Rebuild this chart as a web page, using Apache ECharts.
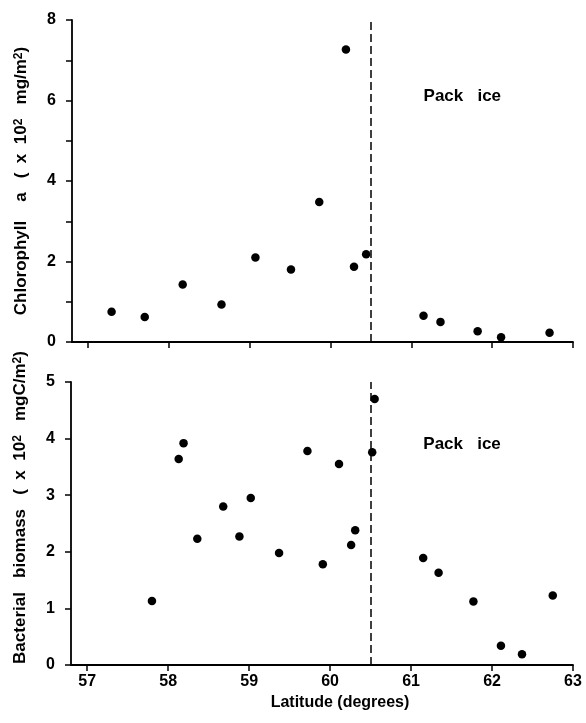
<!DOCTYPE html>
<html><head><meta charset="utf-8">
<script src="https://cdn.jsdelivr.net/npm/echarts@6/dist/echarts.min.js"></script>
<style>html,body{margin:0;padding:0;background:#fff}#c{width:586px;height:723px}</style>
</head><body><div id="c"></div>
<script>
const xTicks = [57, 58, 59, 60, 61, 62, 63];
const latChl = [57.29, 57.70, 58.17, 58.65, 59.07, 59.51, 59.86, 60.19, 60.29, 60.44, 61.15, 61.36, 61.82, 62.11, 62.71];
const chl = [0.75, 0.62, 1.43, 0.93, 2.10, 1.80, 3.48, 7.27, 1.87, 2.18, 0.65, 0.50, 0.27, 0.12, 0.23];
const latBac = [57.80, 58.13, 58.19, 58.36, 58.68, 58.88, 59.02, 59.37, 59.72, 59.91, 60.11, 60.26, 60.31, 60.52, 60.55, 61.15, 61.34, 61.77, 62.11, 62.37, 62.75];
const bac = [1.13, 3.64, 3.92, 2.23, 2.80, 2.27, 2.95, 1.98, 3.78, 1.78, 3.55, 2.12, 2.38, 3.76, 4.70, 1.89, 1.63, 1.12, 0.34, 0.19, 1.23];
const iceEdge = 60.5;
const packLabelTop = [61.63, 6.1];
const packLabelBottom = [61.63, 3.9];

const FONT = 'Liberation Sans';
const ink = '#000';
const axisLine = {show: true, onZero: false, lineStyle: {color: ink, width: 1.8}};
const tick = {show: true, inside: false, length: 6, lineStyle: {color: ink, width: 1.5}};
const lbl = {color: ink, fontFamily: FONT, fontWeight: 'bold', fontSize: 16};
const supRich = {sup: {fontSize: 12, fontFamily: FONT, fontWeight: 'bold', color: ink, verticalAlign: 'top', lineHeight: 12}};

function xAxis(gridIndex, showLabel) {
  return {
    type: 'value', gridIndex, min: 56.8, max: 63,
    axisLine, splitLine: {show: false},
    axisTick: Object.assign({}, tick, {customValues: xTicks}),
    axisLabel: Object.assign({}, lbl, {show: showLabel, margin: 9, customValues: xTicks}),
    name: showLabel ? 'Latitude (degrees)' : '',
    nameLocation: 'middle', nameGap: 30,
    nameTextStyle: {color: ink, fontFamily: FONT, fontWeight: 'bold', fontSize: 16, padding: [0, 0, 0, 36]}
  };
}
function pair(lat, v) { return lat.map((x, i) => [x, v[i]]); }
const dot = {color: ink, opacity: 1};
function packMark(coord) {
  return {
    symbol: 'circle', symbolSize: 0, silent: true,
    label: {show: true, position: 'inside', formatter: 'Pack   ice', color: ink, fontFamily: FONT, fontWeight: 'bold', fontSize: 17},
    data: [{coord}]
  };
}
function edgeLine() {
  return {
    symbol: ['none', 'none'], silent: true, label: {show: false},
    lineStyle: {color: ink, type: [8, 4], width: 1.5},
    data: [{xAxis: iceEdge}]
  };
}

const chart = echarts.init(document.getElementById('c'), null, {renderer: 'canvas'});
chart.setOption({
  backgroundColor: '#fff',
  animation: false,
  grid: [
    {left: 72, right: 13, top: 20, height: 322},
    {left: 71, right: 13, top: 382, bottom: 58}
  ],
  xAxis: [xAxis(0, false), xAxis(1, true)],
  yAxis: [
    {
      type: 'value', gridIndex: 0, min: 0, max: 8, interval: 1,
      axisLine, axisTick: tick, splitLine: {show: false},
      axisLabel: Object.assign({}, lbl, {margin: 16, formatter: v => (v % 2 === 0 ? String(v) : '')}),
      name: 'Chlorophyll    a   (  x  10{sup|2}   mg/m{sup|2})', nameLocation: 'middle', nameGap: 42,
      nameTextStyle: {color: ink, fontFamily: FONT, fontWeight: 'bold', fontSize: 17, rich: supRich}
    },
    {
      type: 'value', gridIndex: 1, min: 0, max: 5, interval: 1,
      axisLine, axisTick: tick, splitLine: {show: false},
      axisLabel: Object.assign({}, lbl, {margin: 16}),
      name: 'Bacterial   biomass   (  x  10{sup|2}   mgC/m{sup|2})', nameLocation: 'middle', nameGap: 42,
      nameTextStyle: {color: ink, fontFamily: FONT, fontWeight: 'bold', fontSize: 17, padding: [0, 0, 0, 32], rich: supRich}
    }
  ],
  series: [
    {type: 'scatter', xAxisIndex: 0, yAxisIndex: 0, data: pair(latChl, chl), symbolSize: 8.5, itemStyle: dot,
     markLine: edgeLine(), markPoint: packMark(packLabelTop)},
    {type: 'scatter', xAxisIndex: 1, yAxisIndex: 1, data: pair(latBac, bac), symbolSize: 8.5, itemStyle: dot,
     markLine: edgeLine(), markPoint: packMark(packLabelBottom)}
  ]
});
</script></body></html>
